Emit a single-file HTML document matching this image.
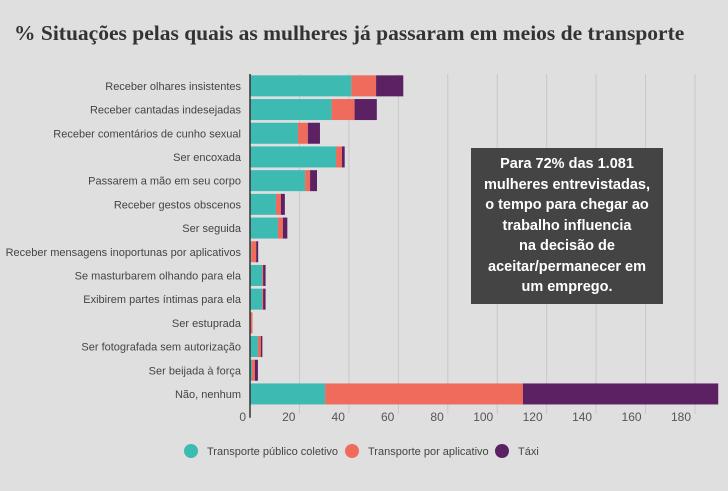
<!DOCTYPE html>
<html><head><meta charset="utf-8"><style>
body{margin:0;background:#dfdfdf;font-family:"Liberation Sans",sans-serif;}
#wrap{position:relative;width:728px;height:491px;overflow:hidden;background:#dfdfdf}
h1{position:absolute;left:14px;top:21px;margin:0;font-family:"Liberation Serif",serif;font-size:21.5px;font-weight:bold;color:#333;white-space:nowrap}
#note{position:absolute;left:471px;top:148px;width:192px;height:156px;background:#444;color:#fff;font-weight:bold;font-size:14.5px;line-height:20.5px;text-align:center;padding-top:6px;box-sizing:border-box}
</style></head><body>
<div id="wrap">
<h1>% Situações pelas quais as mulheres já passaram em meios de transporte</h1>
<svg id="chart" width="728" height="491" style="position:absolute;left:0;top:0"></svg>
<div id="note">Para 72% das 1.081<br>mulheres entrevistadas,<br>o tempo para chegar ao<br>trabalho influencia<br>na decisão de<br>aceitar/permanecer em<br>um emprego.</div>
</div>
<script>
const categories=["Receber olhares insistentes","Receber cantadas indesejadas","Receber comentários de cunho sexual","Ser encoxada","Passarem a mão em seu corpo","Receber gestos obscenos","Ser seguida","Receber mensagens inoportunas por aplicativos","Se masturbarem olhando para ela","Exibirem partes íntimas para ela","Ser estuprada","Ser fotografada sem autorização","Ser beijada à força","Não, nenhum"];
const publico=[41,33,19.4,34.8,22.3,10.5,11.3,0.5,4.9,4.9,0,3.2,0.8,30.4];
const aplicativo=[10,9.3,4,2.4,2,2,2,2,0.4,0.4,1,1.2,1.2,80];
const taxi=[11,9,4.9,1.1,2.8,1.6,1.8,0.8,1,1,0,0.6,1.2,79];
const ticks=[0,20,40,60,80,100,120,140,160,180];
const seriesNames=["Transporte público coletivo","Transporte por aplicativo","Táxi"];
const colors=["#3dbab2","#ef6b5b","#5b2163"];
const NS="http://www.w3.org/2000/svg";
const svg=document.getElementById('chart');
const x0=250,sc=445/180,top0=74,rowH=23.7,barH=21;
const xs=v=>x0+v*sc;
const yc=i=>top0+rowH*i+rowH/2;
function mk(t,a){const e=document.createElementNS(NS,t);for(const k in a)e.setAttribute(k,a[k]);svg.appendChild(e);return e;}
ticks.forEach(t=>{
 if(t>0){const g=mk('line',{x1:xs(t),x2:xs(t),y1:top0,y2:top0+rowH*14+8,stroke:'#c8c8c8','stroke-width':1});
 
 }
 const l=mk('text',{x:xs(t)-4,y:421,'text-anchor':'end','font-size':12,fill:'#555'});l.textContent=t;
 
 
});
const series=[publico,aplicativo,taxi];
categories.forEach((c,i)=>{
 const lab=mk('text',{x:241,y:yc(i)+4,'text-anchor':'end','font-size':11,fill:'#444'});lab.textContent=c;
 
 
 let acc=0;
 series.forEach((s,j)=>{
  const r=mk('rect',{x:xs(acc),y:yc(i)-barH/2,width:Math.max(0,s[i]*sc),height:barH,fill:colors[j]});
  
  
  acc+=s[i];
 });
});
const ax=mk('line',{x1:x0,x2:x0,y1:top0,y2:top0+rowH*14+12,stroke:'#333','stroke-width':1.5});


const lx=[191,352,502];
seriesNames.forEach((n,j)=>{
 const c=mk('circle',{cx:lx[j],cy:451,r:7,fill:colors[j]});
 
 
 const t=mk('text',{x:lx[j]+16,y:455,'font-size':11,fill:'#444'});t.textContent=n;
 
 
});
</script>
</body></html>
